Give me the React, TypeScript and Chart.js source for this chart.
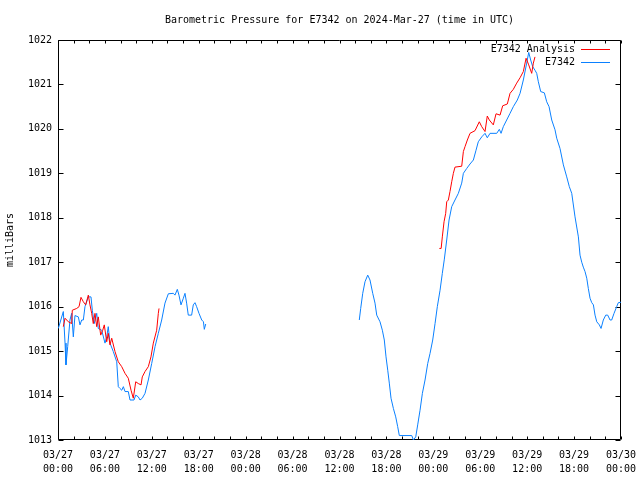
import React, { useEffect, useRef } from "react";
import { Chart, registerables } from "chart.js";

Chart.register(...registerables);

const TITLE = "Barometric Pressure for E7342 on 2024-Mar-27 (time in UTC)";
const Y_LABEL = "milliBars";
const SERIES_ANALYSIS = "E7342 Analysis";
const SERIES_OBS = "E7342";

// x ticks: every 6 hours from 03/27 00:00 (hour 0) to 03/30 00:00 (hour 72)
const xTickDates = ["03/27", "03/27", "03/27", "03/27", "03/28", "03/28", "03/28", "03/28", "03/29", "03/29", "03/29", "03/29", "03/30"];
const xTickTimes = ["00:00", "06:00", "12:00", "18:00", "00:00", "06:00", "12:00", "18:00", "00:00", "06:00", "12:00", "18:00", "00:00"];
const yTicks = [1013, 1014, 1015, 1016, 1017, 1018, 1019, 1020, 1021, 1022];

// Observed (E7342) - first segment: hours since 03/27 00:00, pressure mb
const obsHoursA = [0.04, 0.68, 0.9, 1.02, 1.24, 1.53, 1.75, 1.96, 2.17, 2.6, 2.81, 3.03, 3.24, 3.45, 3.88, 4.22, 4.39, 4.64, 4.95, 5.15, 5.59, 6.01, 6.23, 6.43, 6.65, 7.07, 7.51, 7.71, 7.92, 8.15, 8.36, 8.57, 8.99, 9.21, 9.72, 9.94, 10.27, 10.49, 10.78, 11.13, 11.55, 11.98, 12.41, 12.83, 13.26, 13.68, 14.11, 14.75, 14.96, 15.26, 15.47, 15.73, 16.03, 16.24, 16.45, 16.66, 17.09, 17.3, 17.52, 17.73, 18.03, 18.38, 18.6, 18.71, 18.89];
const obsPresA = [1015.51, 1015.89, 1015.18, 1014.69, 1015.1, 1015.7, 1015.85, 1015.32, 1015.8, 1015.77, 1015.59, 1015.7, 1015.7, 1016.0, 1016.22, 1016.22, 1015.92, 1015.62, 1015.85, 1015.51, 1015.47, 1015.18, 1015.32, 1015.55, 1015.18, 1014.99, 1014.76, 1014.2, 1014.16, 1014.12, 1014.2, 1014.09, 1014.09, 1013.9, 1013.9, 1014.01, 1013.97, 1013.9, 1013.94, 1014.05, 1014.35, 1014.72, 1015.1, 1015.4, 1015.7, 1016.08, 1016.29, 1016.3, 1016.26, 1016.39, 1016.26, 1016.04, 1016.19, 1016.3, 1016.08, 1015.81, 1015.81, 1016.04, 1016.09, 1016.0, 1015.85, 1015.7, 1015.66, 1015.49, 1015.61];

// Observed (E7342) - second segment
const obsHoursB = [38.53, 38.71, 38.97, 39.26, 39.61, 39.9, 40.25, 40.54, 40.76, 41.18, 41.48, 41.73, 41.95, 42.17, 42.37, 42.59, 42.89, 43.19, 43.44, 43.65, 45.24, 45.45, 45.75, 46.0, 46.3, 46.6, 46.94, 47.28, 47.58, 47.92, 48.22, 48.51, 48.86, 49.15, 49.41, 49.71, 50.01, 50.35, 50.77, 51.2, 51.63, 51.84, 52.27, 52.69, 53.12, 53.46, 53.75, 54.19, 54.61, 54.9, 55.25, 56.11, 56.44, 56.66, 56.95, 57.38, 57.81, 58.23, 58.74, 59.09, 59.51, 59.94, 60.2, 60.45, 60.71, 61.0, 61.22, 61.43, 61.73, 62.2, 62.5, 62.8, 63.14, 63.56, 63.78, 64.2, 64.63, 65.06, 65.39, 65.7, 66.12, 66.55, 66.76, 66.98, 67.18, 67.4, 67.62, 67.82, 68.04, 68.26, 68.47, 68.68, 68.9, 69.23, 69.45, 69.74, 70.05, 70.3, 70.6, 70.81, 71.11, 71.45, 71.66, 72.0];
const obsPresB = [1015.7, 1015.96, 1016.3, 1016.56, 1016.71, 1016.6, 1016.3, 1016.08, 1015.81, 1015.66, 1015.47, 1015.25, 1014.87, 1014.57, 1014.28, 1013.94, 1013.71, 1013.52, 1013.3, 1013.1, 1013.1, 1013.0, 1013.07, 1013.34, 1013.67, 1014.05, 1014.35, 1014.72, 1014.95, 1015.25, 1015.62, 1016.0, 1016.37, 1016.75, 1017.07, 1017.5, 1017.95, 1018.25, 1018.4, 1018.55, 1018.78, 1019.0, 1019.11, 1019.21, 1019.3, 1019.52, 1019.71, 1019.82, 1019.9, 1019.8, 1019.9, 1019.9, 1019.99, 1019.9, 1020.05, 1020.2, 1020.35, 1020.5, 1020.65, 1020.8, 1021.1, 1021.48, 1021.72, 1021.55, 1021.4, 1021.32, 1021.25, 1021.06, 1020.84, 1020.81, 1020.61, 1020.5, 1020.2, 1019.98, 1019.79, 1019.56, 1019.19, 1018.92, 1018.7, 1018.55, 1018.02, 1017.57, 1017.16, 1017.0, 1016.89, 1016.79, 1016.64, 1016.41, 1016.19, 1016.09, 1016.04, 1015.81, 1015.66, 1015.59, 1015.51, 1015.7, 1015.81, 1015.81, 1015.7, 1015.7, 1015.85, 1016.0, 1016.09, 1016.1];

// Analysis (E7342 Analysis) - first segment
const anaHoursA = [0.68, 0.9, 1.32, 1.75, 1.83, 2.39, 2.69, 2.94, 3.24, 3.54, 3.88, 4.09, 4.31, 4.51, 4.73, 4.95, 5.15, 5.46, 5.72, 5.92, 6.23, 6.43, 6.65, 6.87, 7.29, 7.71, 8.15, 8.57, 8.99, 9.34, 9.63, 9.94, 10.27, 10.62, 10.78, 11.13, 11.55, 11.89, 12.19, 12.62, 12.83, 12.92];
const anaPresA = [1015.55, 1015.74, 1015.66, 1015.62, 1015.92, 1015.96, 1016.0, 1016.21, 1016.11, 1016.04, 1016.26, 1016.04, 1015.85, 1015.62, 1015.85, 1015.55, 1015.77, 1015.36, 1015.47, 1015.59, 1015.21, 1015.4, 1015.14, 1015.29, 1014.99, 1014.76, 1014.65, 1014.5, 1014.39, 1014.12, 1013.94, 1014.31, 1014.27, 1014.24, 1014.42, 1014.54, 1014.65, 1014.87, 1015.18, 1015.47, 1015.85, 1015.96];

// Analysis (E7342 Analysis) - second segment
const anaHoursB = [48.77, 49.0, 49.15, 49.37, 49.58, 49.71, 49.92, 50.13, 50.35, 50.56, 50.77, 51.63, 51.84, 52.05, 52.35, 52.69, 53.33, 53.88, 54.19, 54.61, 54.9, 55.16, 55.67, 56.02, 56.53, 56.87, 57.46, 57.81, 58.23, 58.66, 59.09, 59.51, 59.86, 60.2, 60.58, 60.79, 61.0];
const anaPresB = [1017.31, 1017.31, 1017.57, 1017.91, 1018.1, 1018.36, 1018.4, 1018.59, 1018.81, 1019.0, 1019.14, 1019.16, 1019.49, 1019.6, 1019.75, 1019.9, 1019.96, 1020.16, 1020.05, 1019.94, 1020.29, 1020.2, 1020.09, 1020.34, 1020.31, 1020.52, 1020.56, 1020.8, 1020.89, 1021.03, 1021.15, 1021.29, 1021.59, 1021.44, 1021.25, 1021.48, 1021.62];

const RED = "#ff0000";
const BLUE = "#0a80ff";
const FONT = "'DejaVu Sans Mono', monospace";

function toPoints(hours: number[], pres: number[]) {
  return hours.map((h, i) => ({ x: h, y: pres[i] }));
}
function joinSegments(a: { x: number; y: number | null }[], b: { x: number; y: number | null }[]) {
  const gapX = (a[a.length - 1].x + b[0].x) / 2;
  return [...a, { x: gapX, y: null }, ...b];
}

const framePlugin = {
  id: "gnuFrame",
  beforeDatasetsDraw(chart: any) {
    const { ctx, chartArea: a, scales } = chart;
    const xs = scales.x;
    const ys = scales.y;
    const L = Math.round(a.left) + 0.5;
    const R = Math.round(a.right) - 0.5;
    const T = Math.round(a.top) + 0.5;
    const B = Math.round(a.bottom) - 0.5;
    ctx.save();
    // title centred over the plot area
    ctx.font = "10px " + FONT;
    ctx.fillStyle = "#000";
    ctx.textAlign = "center";
    ctx.textBaseline = "middle";
    ctx.fillText(TITLE, (a.left + a.right) / 2, 20);

    ctx.strokeStyle = "#000";
    ctx.lineWidth = 1;
    ctx.beginPath();
    for (let h = 0; h <= 72; h += 2) {
      const px = Math.round(xs.getPixelForValue(h)) + 0.5;
      ctx.moveTo(px, B);
      ctx.lineTo(px, B - 3);
      ctx.moveTo(px, T);
      ctx.lineTo(px, T + 3);
    }
    for (const v of yTicks) {
      const py = Math.round(ys.getPixelForValue(v)) + 0.5;
      ctx.moveTo(L, py);
      ctx.lineTo(L + 5, py);
      ctx.moveTo(R, py);
      ctx.lineTo(R - 5, py);
    }
    ctx.moveTo(L, T);
    ctx.lineTo(R, T);
    ctx.lineTo(R, B);
    ctx.lineTo(L, B);
    ctx.closePath();
    ctx.stroke();
    ctx.restore();
  },
  afterDatasetsDraw(chart: any) {
    const { ctx, chartArea: a } = chart;
    const items = [
      { label: SERIES_ANALYSIS, color: RED },
      { label: SERIES_OBS, color: BLUE },
    ];
    ctx.save();
    ctx.font = "10px " + FONT;
    ctx.textAlign = "right";
    ctx.textBaseline = "middle";
    items.forEach((it, i) => {
      const y = a.top + 9 + i * 13;
      ctx.fillStyle = "#000";
      ctx.fillText(it.label, a.right - 46, y);
      ctx.strokeStyle = it.color;
      ctx.lineWidth = 1;
      ctx.beginPath();
      ctx.moveTo(a.right - 40, Math.round(y) + 0.5);
      ctx.lineTo(a.right - 11, Math.round(y) + 0.5);
      ctx.stroke();
    });
    ctx.restore();
  },
};

export default function App() {
  const ref = useRef<HTMLCanvasElement | null>(null);
  useEffect(() => {
    if (!ref.current) return;
    const chart = new Chart(ref.current, {
      type: "line",
      data: {
        datasets: [
          {
            label: SERIES_ANALYSIS,
            data: joinSegments(toPoints(anaHoursA, anaPresA), toPoints(anaHoursB, anaPresB)) as any,
            borderColor: RED,
            borderWidth: 1,
            pointRadius: 0,
            tension: 0,
            spanGaps: false,
            fill: false,
          },
          {
            label: SERIES_OBS,
            data: joinSegments(toPoints(obsHoursA, obsPresA), toPoints(obsHoursB, obsPresB)) as any,
            borderColor: BLUE,
            borderWidth: 1,
            pointRadius: 0,
            tension: 0,
            spanGaps: false,
            fill: false,
          },
        ],
      },
      options: {
        responsive: false,
        animation: false,
        layout: { padding: { left: 0, right: 19, top: 40, bottom: 0 } },
        plugins: {
          legend: { display: false },
          tooltip: { enabled: false },
          title: { display: false },
        },
        scales: {
          x: {
            type: "linear",
            min: 0,
            max: 72,
            grid: { display: false, drawTicks: false },
            border: { display: false },
            afterFit: (s: any) => {
              s.height = 40;
              s.paddingLeft = 0;
              s.paddingRight = 0;
            },
            afterBuildTicks: (s: any) => {
              s.ticks = xTickDates.map((_, i) => ({ value: i * 6 }));
            },
            ticks: {
              autoSkip: false,
              maxRotation: 0,
              padding: 8,
              color: "#000",
              font: { family: FONT, size: 10, lineHeight: 1.4 },
              callback: (v: any) => {
                const i = Math.round(Number(v) / 6);
                return [xTickDates[i], xTickTimes[i]];
              },
            },
          },
          y: {
            type: "linear",
            min: 1013,
            max: 1022,
            grid: { display: false, drawTicks: false },
            border: { display: false },
            afterFit: (s: any) => {
              s.width = 58;
              s.paddingTop = 0;
              s.paddingBottom = 0;
            },
            afterBuildTicks: (s: any) => {
              s.ticks = yTicks.map((v) => ({ value: v }));
            },
            ticks: {
              padding: 6,
              color: "#000",
              font: { family: FONT, size: 10 },
              callback: (v: any) => String(v),
            },
            title: {
              display: true,
              text: Y_LABEL,
              color: "#000",
              font: { family: FONT, size: 10, lineHeight: 1.2 },
              padding: { top: 4, bottom: 0 },
            },
          },
        },
      },
      plugins: [framePlugin],
    });
    return () => chart.destroy();
  }, []);
  return (
    <div style={{ position: "absolute", left: 0, top: 0, width: 640, height: 480, background: "#fff" }}>
      <canvas ref={ref} width={640} height={480} />
    </div>
  );
}
